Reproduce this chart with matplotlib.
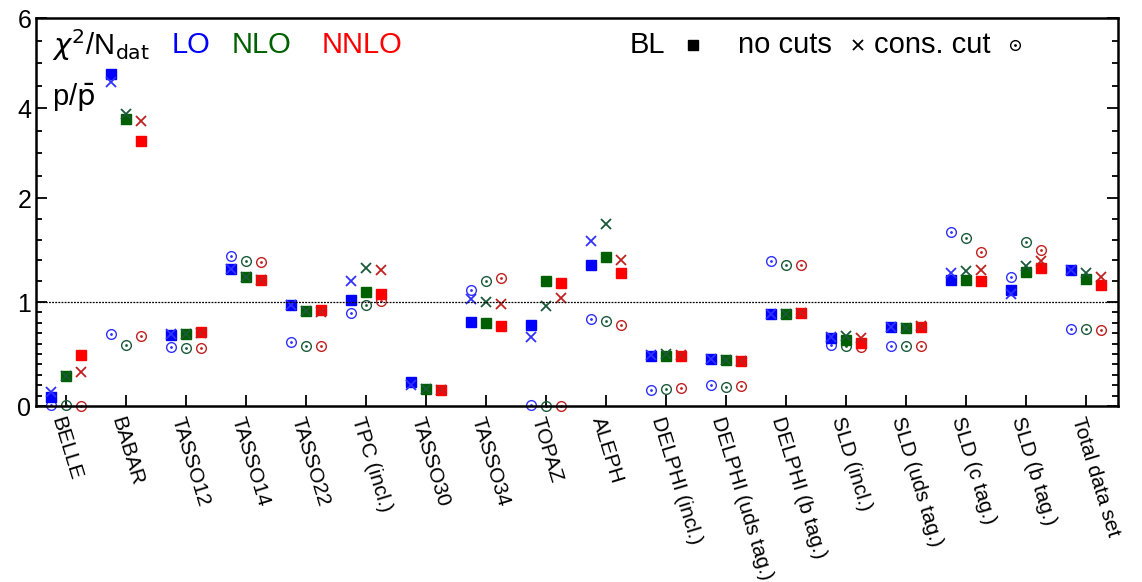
import numpy as np
import matplotlib
matplotlib.use('Agg')
import matplotlib.pyplot as plt

plt.rcParams['font.family'] = ['Liberation Sans', 'DejaVu Sans']

cats = ['BELLE', 'BABAR', 'TASSO12', 'TASSO14', 'TASSO22', 'TPC (incl.)', 'TASSO30',
        'TASSO34', 'TOPAZ', 'ALEPH', 'DELPHI (incl.)', 'DELPHI (uds tag.)',
        'DELPHI (b tag.)', 'SLD (incl.)', 'SLD (uds tag.)', 'SLD (c tag.)',
        'SLD (b tag.)', 'Total data set']

nocut_lo = [0.09, 4.76, 0.68, 1.32, 0.97, 1.02, 0.23, 0.81, 0.78, 1.36, 0.48, 0.45, 0.88, 0.65, 0.76, 1.21, 1.12, 1.31]
nocut_nlo = [0.29, 3.76, 0.69, 1.24, 0.91, 1.10, 0.16, 0.80, 1.20, 1.43, 0.48, 0.44, 0.88, 0.63, 0.75, 1.21, 1.29, 1.22]
nocut_nnlo = [0.49, 3.27, 0.71, 1.21, 0.92, 1.08, 0.15, 0.77, 1.18, 1.28, 0.48, 0.43, 0.89, 0.61, 0.76, 1.20, 1.33, 1.16]

cons_lo = [0.13, 4.58, 0.69, 1.32, 0.97, 1.20, 0.20, 1.03, 0.66, 1.59, 0.49, 0.45, 0.88, 0.66, 0.76, 1.28, 1.08, 1.31]
cons_nlo = [0.29, 3.87, 0.69, 1.24, 0.91, 1.33, 0.16, 1.00, 0.96, 1.75, 0.50, 0.44, 0.88, 0.67, 0.75, 1.30, 1.35, 1.28]
cons_nnlo = [0.33, 3.71, 0.70, 1.21, 0.90, 1.31, 0.15, 0.98, 1.04, 1.40, 0.49, 0.43, 0.89, 0.65, 0.77, 1.31, 1.39, 1.24]

bl_lo = [0.01, 0.69, 0.57, 1.44, 0.62, 0.89, np.nan, 1.12, 0.01, 0.84, 0.15, 0.20, 1.39, 0.59, 0.58, 1.67, 1.24, 0.74]
bl_nlo = [0.01, 0.59, 0.56, 1.39, 0.58, 0.97, np.nan, 1.20, 0.0, 0.82, 0.16, 0.18, 1.36, 0.58, 0.58, 1.62, 1.58, 0.74]
bl_nnlo = [0.0, 0.67, 0.56, 1.38, 0.58, 1.01, np.nan, 1.23, 0.0, 0.78, 0.17, 0.19, 1.36, 0.57, 0.58, 1.48, 1.50, 0.73]

# piecewise y scale: 0-2 linear, 2-6 compressed
ybr = [0, 1, 2, 6]
ypx = [0, 1, 2, 2 + 4 * 45 / 104]
fwd = lambda v: np.interp(v, ybr, ypx)
inv = lambda v: np.interp(v, ypx, ybr)

fig = plt.figure(figsize=(11.42, 5.82), dpi=100)
ax = fig.add_axes([36 / 1142, 1 - 406 / 582, (1118 - 36) / 1142, (406 - 18) / 582])
ax.set_yscale('function', functions=(fwd, inv))

x = np.arange(len(cats))
d = 0.25
cols = ['#0000ff', '#006000', '#ff0000']
dcols = ['#3030ff', '#1a5a3a', '#c02020']
for i, (nc, cc, bl) in enumerate([(nocut_lo, cons_lo, bl_lo), (nocut_nlo, cons_nlo, bl_nlo),
                                  (nocut_nnlo, cons_nnlo, bl_nnlo)]):
    xs = x + (i - 1) * d
    ax.plot(xs, bl, 'o', ms=7, mfc='none', mec=dcols[i], mew=1.0, ls='none', clip_on=False)
    ax.plot(xs, bl, '.', ms=2, color=dcols[i], ls='none', clip_on=False)
    ax.plot(xs, nc, 's', ms=7, color=cols[i], ls='none', clip_on=False)
    ax.plot(xs, cc, 'x', ms=7, mew=1.3, color=dcols[i], ls='none', clip_on=False)

ax.axhline(1, color='k', ls=(0, (1.5, 1)), lw=0.9)
ax.set_xlim(-0.5, 17.53)
ax.set_ylim(0, 6)
ax.set_yticks([0, 1, 2, 4, 6])
ax.set_yticklabels(['0', '1', '2', '4', '6'], fontsize=18)
minors = list(np.arange(0.1, 1.0, 0.1)) + list(np.arange(1.2, 2.0, 0.2)) + list(np.arange(2.5, 6, 0.5))
ax.set_yticks(minors, minor=True)
ax.set_xticks(x)
ax.set_xticklabels(cats, rotation=-73, ha='left', va='top', rotation_mode='anchor', fontsize=15)
ax.tick_params(axis='both', which='both', direction='in', right=True, width=1.3)
ax.tick_params(axis='both', which='major', length=8)
ax.tick_params(axis='y', which='minor', length=4)
ax.tick_params(axis='x', pad=6)
for s in ax.spines.values():
    s.set_linewidth(1.8)

def px(xp, yp):
    return xp / 1142, 1 - yp / 582

fig.text(*px(52, 45), r'$\chi^2$/N$_{\rm dat}$', fontsize=21, va='center')
fig.text(*px(52, 97), r'p/$\bar{\rm p}$', fontsize=21, va='center')
fig.text(*px(172, 45), 'LO', color=cols[0], fontsize=21, va='center')
fig.text(*px(232, 45), 'NLO', color=cols[1], fontsize=21, va='center')
fig.text(*px(322, 45), 'NNLO', color=cols[2], fontsize=21, va='center')
fig.text(*px(630, 45), 'BL', fontsize=21, va='center')
fig.text(*px(738, 45), 'no cuts', fontsize=21, va='center')
fig.text(*px(874, 45), 'cons. cut', fontsize=21, va='center')
fig.lines.append(plt.Line2D([693 / 1142], [1 - 45 / 582], marker='s', ms=7, color='k', transform=fig.transFigure))
fig.lines.append(plt.Line2D([858 / 1142], [1 - 45 / 582], marker='x', ms=7, mew=1.3, color='k', transform=fig.transFigure))
fig.lines.append(plt.Line2D([1015 / 1142], [1 - 45 / 582], marker='o', ms=7, mfc='none', mec='k', transform=fig.transFigure))
fig.lines.append(plt.Line2D([1015 / 1142], [1 - 45 / 582], marker='.', ms=2, color='k', transform=fig.transFigure))

fig.savefig('out.png', dpi=100)
